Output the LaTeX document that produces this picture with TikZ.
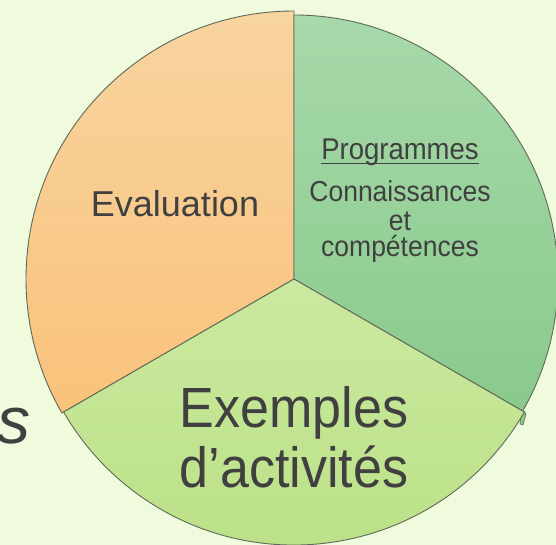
\documentclass[tikz,border=0pt]{standalone}
\usepackage{fontspec}
\setmainfont{Liberation Sans}
\definecolor{bg}{RGB}{240,250,221}
\definecolor{orT}{RGB}{248,212,160}
\definecolor{orB}{RGB}{249,194,122}
\definecolor{grT}{RGB}{167,217,170}
\definecolor{grB}{RGB}{137,202,140}
\definecolor{lgT}{RGB}{203,233,160}
\definecolor{lgB}{RGB}{185,224,132}
\definecolor{txt}{RGB}{64,64,64}
\definecolor{edge}{RGB}{95,105,90}
\newcommand{\tallR}[1]{\scalebox{1}[1.09]{#1}}
\tikzset{
  sector/.style={draw=edge, line width=0.9pt, line join=round},
  lbl/.style={inner sep=0pt, anchor=base, text=txt}
}
\begin{document}
\begin{tikzpicture}[x=1pt,y=1pt]
\useasboundingbox (0,0) rectangle (556,-545);
\clip (0,0) rectangle (556,-545);
\fill[bg] (0,0) rectangle (556,-545);
\coordinate (C) at (294,-279);
% small tab of the green sector
\path[draw=edge, line width=0.6pt, fill=grB]
  (524,-411) -- (526,-414) -- (523,-425) -- (520,-424) -- (521,-415) -- cycle;
% orange sector
\path[sector, top color=orT, bottom color=orB]
  (C) -- ++(90:268) arc[start angle=90, end angle=210, radius=268] -- cycle;
% green sector
\path[sector, top color=grT, bottom color=grB]
  (C) -- ++(90:264) arc[start angle=90, end angle=-30, radius=264] -- cycle;
% light green sector
\path[sector, top color=lgT, bottom color=lgB]
  (C) -- ++(-30:266) arc[start angle=-30, end angle=-150, radius=266] -- cycle;
% labels
\node[lbl, font=\fontsize{36}{43}\selectfont] (eval) at (175,-217) {Evaluation};
\node[lbl, font=\fontsize{27.5}{33}\selectfont] (prog) at (400,-160) {\tallR{Programmes}};
\draw[txt, line width=1.3pt] ([yshift=-3.5pt]prog.base west) -- ([yshift=-3.5pt]prog.base east);
\node[lbl, font=\fontsize{26.5}{32}\selectfont] (conn) at (400,-202) {\tallR{Connaissances}};
\node[lbl, font=\fontsize{26.5}{32}\selectfont] (et) at (400,-230) {\tallR{et}};
\node[lbl, font=\fontsize{26.5}{32}\selectfont] (comp) at (400,-256) {\tallR{compétences}};
\node[lbl, font=\fontsize{52}{60}\selectfont] (ex) at (294,-427) {\tallR{Exemples}};
\node[lbl, font=\fontsize{52}{60}\selectfont] (act) at (294,-487) {\tallR{d’activités}};
\node[inner sep=0pt, anchor=base east, text=txt, font=\fontsize{66}{70}\selectfont\itshape] (s) at (31,-443) {s};
\end{tikzpicture}
\end{document}
